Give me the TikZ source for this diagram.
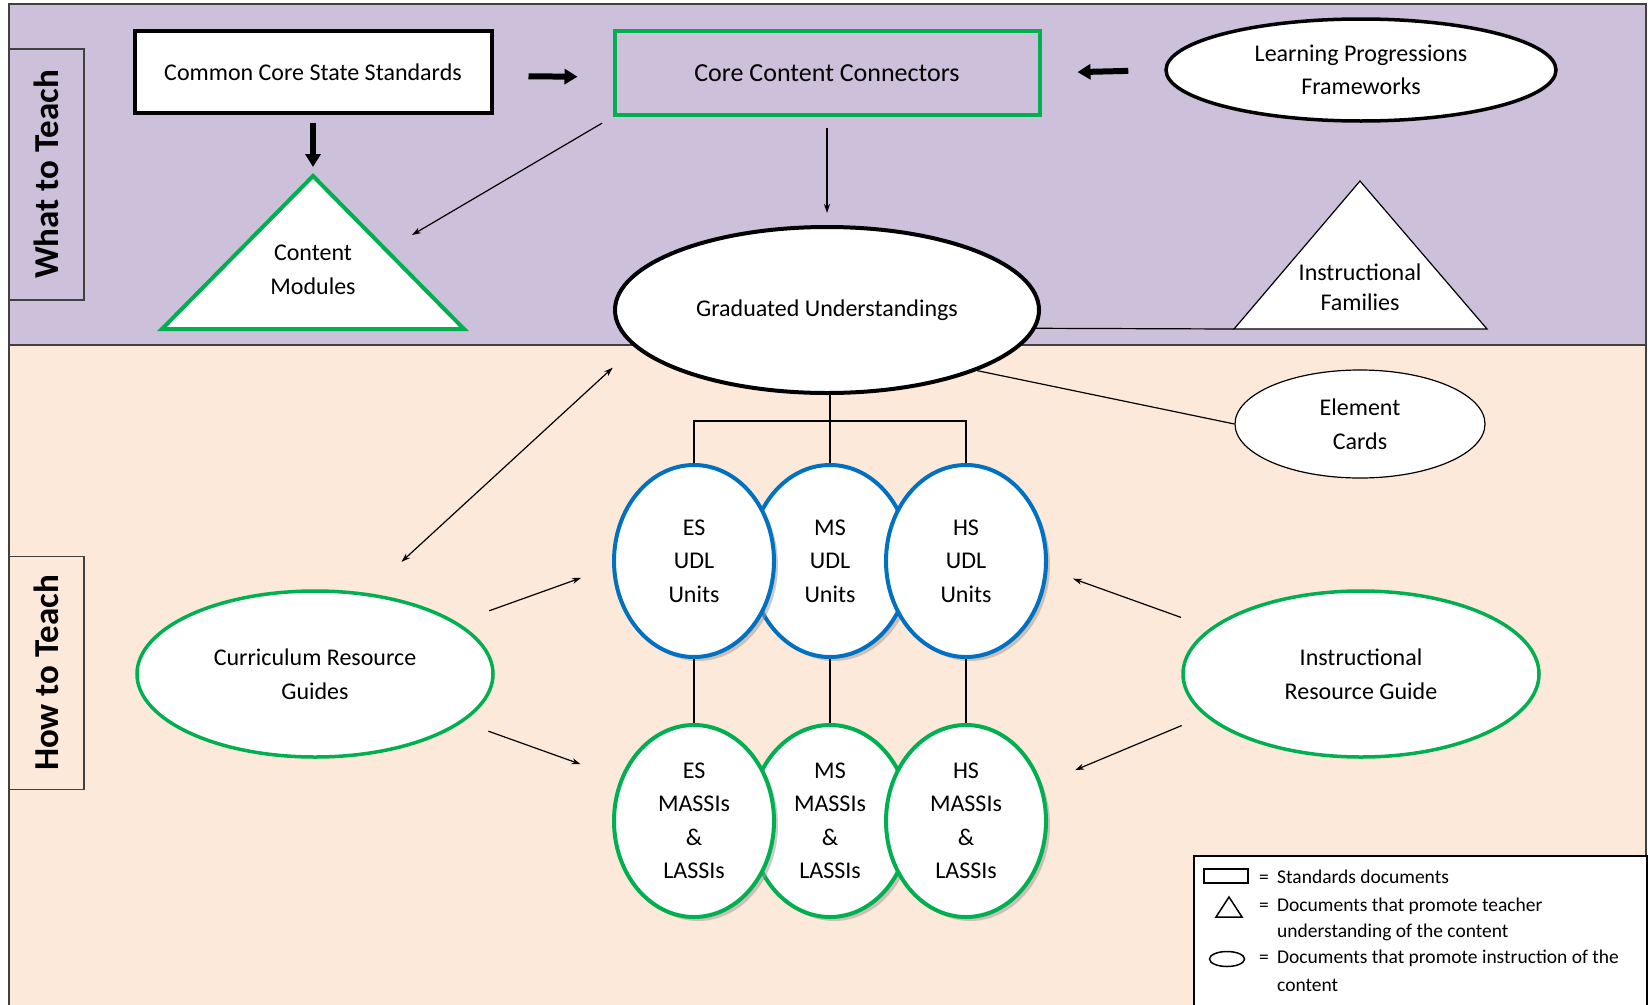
\documentclass[tikz,border=0pt]{standalone}
\usepackage{fontspec}
\setmainfont{Carlito}
\usetikzlibrary{arrows.meta,shapes.geometric,shadows}
\definecolor{whatbg}{RGB}{204,192,218}
\definecolor{howbg}{RGB}{253,233,217}
\definecolor{ngreen}{RGB}{0,176,80}
\definecolor{nblue}{RGB}{0,112,192}
\definecolor{rim}{RGB}{64,64,64}

\begin{document}
\begin{tikzpicture}[x=1pt,y=-1pt,
  >={Stealth[length=9pt,width=6pt]},
  txt/.style={font=\fontsize{24}{33.5}\selectfont,align=center,inner sep=0pt},
  oval/.style={txt,ellipse,draw,fill=white},
  unit/.style={oval,line width=4pt,minimum width=160pt,minimum height=192pt,
    drop shadow={shadow xshift=4pt,shadow yshift=-4pt,fill=black!40}},
  guide/.style={oval,draw=ngreen,line width=3.5pt,minimum width=356pt,minimum height=166pt},
  band/.style={draw=rim,line width=1.5pt,font=\fontsize{35}{35}\selectfont\bfseries,
    rotate=90,inner sep=0pt,minimum height=75pt},
  fat/.style={line width=6pt,-{Triangle[length=13pt,width=15pt]}},
  thin/.style={line width=1.2pt,->},
  link/.style={line width=1.2pt},
  key/.style={font=\fontsize{19.5}{27}\selectfont,anchor=base west,inner sep=0pt}]
\useasboundingbox (0,0) rectangle (1648,1004);
\fill[whatbg] (9,4) rectangle (1646,345);
\fill[howbg] (9,345) rectangle (1646,1010);
\draw[rim,line width=2pt] (9,1010) -- (9,4) -- (1646,4) -- (1646,1010) (9,345) -- (1646,345);

\node[band,minimum width=251pt] (what) at (46.5,174.5) {What to Teach};
\node[band,minimum width=233pt] (how) at (46.5,673) {How to Teach};

\node[txt,draw,fill=white,line width=4pt,minimum width=357pt,minimum height=82pt] (ccss) at (313,72) {Common Core State Standards};
\node[txt,draw=ngreen,line width=4pt,minimum width=425pt,minimum height=84pt,font=\fontsize{26}{30}\selectfont] (ccc) at (827,73) {Core Content Connectors};
\node[oval,line width=3.5pt,minimum width=390pt,minimum height=102pt] (lpf) at (1361,70) {Learning Progressions\\Frameworks};

\coordinate (cm-top) at (313,176);
\coordinate (cm-tip) at (412,235);
\draw[ngreen,line width=4pt,fill=white] (cm-top) -- (464,329) -- (162,329) -- cycle;
\node[txt] (cm) at (313,270) {Content\\Modules};

\coordinate (if-top) at (1360,181);
\coordinate (if-left) at (1234,329);
\draw[link,fill=white] (if-top) -- (1487,329) -- (if-left) -- cycle;
\node[txt,font=\fontsize{24}{30}\selectfont] (if) at (1360,287) {Instructional\\Families};

\node[oval,line width=4pt,minimum width=424pt,minimum height=166pt] (gu) at (827,310) {Graduated Understandings};
\node[oval,line width=1.2pt,minimum width=250pt,minimum height=108pt] (ec) at (1360,424) {Element\\Cards};

\foreach \n/\x/\g in {2/830/MS,1/694/ES,3/966/HS} {
  \node[unit,draw=nblue] (udl\n) at (\x,561) {\g\\UDL\\Units};
  \node[unit,draw=ngreen] (massi\n) at (\x,821) {\g\\MASSIs\\\&\\LASSIs};
}

\node[guide] (crg) at (315,674) {Curriculum Resource\\Guides};
\node[guide] (irg) at (1361,674) {Instructional\\Resource Guide};

\draw[fat,shorten <=35pt,shorten >=35pt] ([yshift=-4pt]ccss.east) -- ([yshift=-4pt]ccc.west);
\draw[fat,shorten <=36pt,shorten >=36pt] (lpf.west) -- (ccc.east);
\draw[fat,shorten <=8pt,shorten >=9pt] (ccss.south) -- (cm-top);
\draw[thin,shorten <=12pt] (ccc.south west) -- (cm-tip);
\draw[thin,shorten <=11pt,shorten >=12pt] (ccc.south) -- (gu.north);
\draw[thin,<->,shorten <=46pt,shorten >=30pt] (crg.57) -- (gu.191);
\draw[link] (gu.-5) -- (if-left);
\draw[link] (gu.-22) -- (ec.west);

\draw[link] (udl2.north |- gu.south) -- (udl2.north);
\draw[link] (udl1.north) -- ++(0,-42) -| (udl3.north);
\foreach \n in {1,2,3} \draw[link] (udl\n.south) -- (massi\n.north);

\draw[thin,shorten <=34pt,shorten >=33pt] (crg.20) -- (udl1.184);
\draw[thin,shorten <=27pt,shorten >=42pt] (crg.-18) -- (massi1.150);
\draw[thin,shorten <=31pt,shorten >=27pt] (irg.163) -- (udl3.-6);
\draw[thin,shorten <=25pt,shorten >=36pt] (irg.195) -- (massi3.26);

\node[draw,fill=white,line width=1.5pt,anchor=north west,minimum width=453pt,minimum height=170pt,inner sep=0pt] (legend) at (1193,855) {};
\draw[line width=1.5pt] (1204,869) rectangle (1248,883);
\draw[line width=1.5pt] (1229,897) -- (1242,917) -- (1216,917) -- cycle;
\draw[line width=1.5pt] (1227,959) ellipse [x radius=17.5,y radius=7.5];
\foreach \i/\y in {1/883,2/911,4/963} \node[key] (eq\i) at (1259,\y) {=};
\foreach \i/\y/\t in {1/883/Standards documents,2/911/Documents that promote teacher,
  3/937/understanding of the content,4/963/Documents that promote instruction of the,5/991/content}
  \node[key] (key\i) at (1277,\y) {\t};
\end{tikzpicture}
\end{document}
